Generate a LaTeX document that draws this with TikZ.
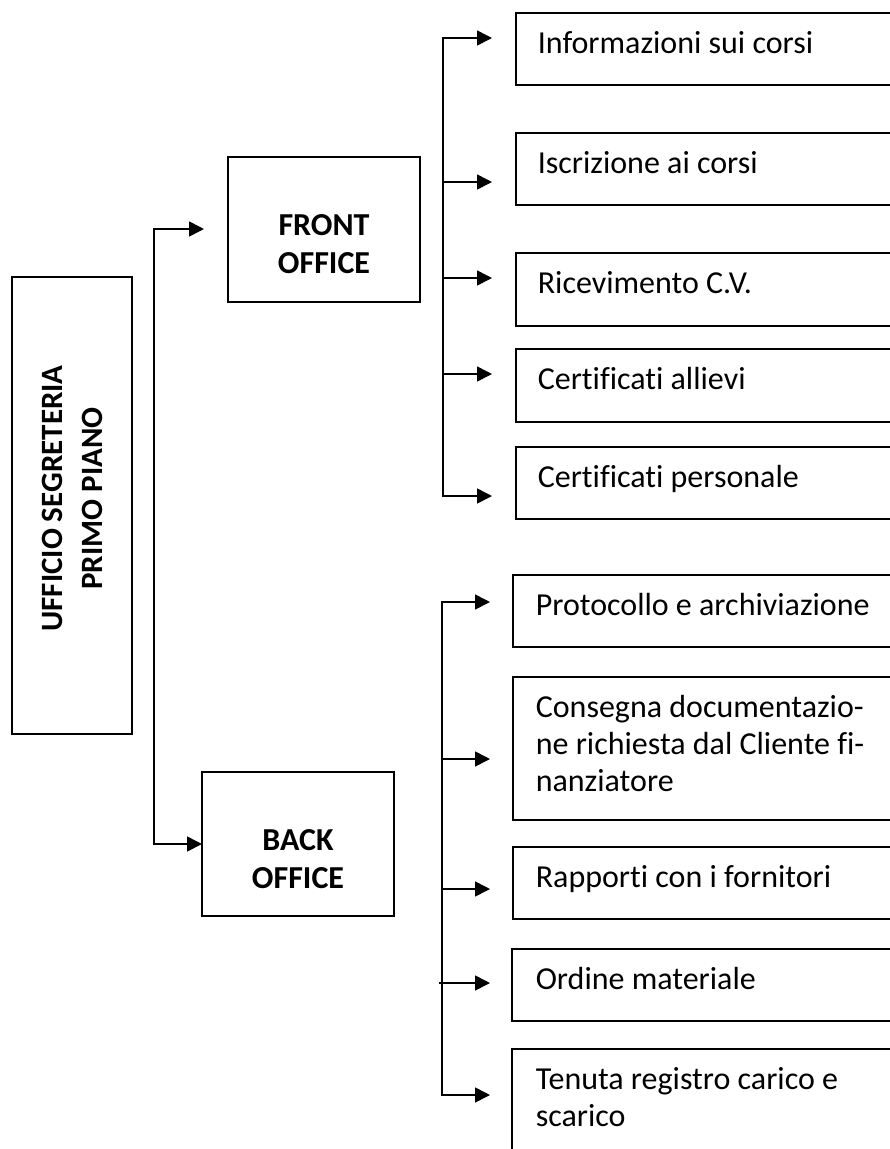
\documentclass[tikz,border=0pt]{standalone}
\usepackage{fontspec}
\setmainfont{Carlito}[Ligatures={NoCommon}]
\usetikzlibrary{arrows.meta}
\begin{document}
\begin{tikzpicture}[x=1pt,y=-1pt,line width=1.6pt,
  box/.style={draw,rectangle,inner sep=0pt,outer sep=0pt,anchor=north west},
  lbl/.style={anchor=base west,inner sep=0pt,font=\fontsize{32}{37}\selectfont,align=left},
  blbl/.style={anchor=base,inner sep=0pt,font=\bfseries\fontsize{32}{38}\selectfont,align=center},
  arr/.style={-{Triangle[length=15pt,width=15pt]}},
  arrb/.style={{Triangle[length=15pt,width=15pt]}-{Triangle[length=15pt,width=15pt]},line join=miter}]
\useasboundingbox (0,0) rectangle (890,1149);
\clip (0,0) rectangle (890,1149);

% main box
\node[box,minimum width=120,minimum height=457] (main) at (12,277) {};
\node[rotate=90,inner sep=0pt,font=\bfseries\fontsize{31}{40}\selectfont,align=center] (mainlbl) at ([yshift=7]main.center) {UFFICIO SEGRETERIA\\PRIMO PIANO};

% front / back office
\node[box,minimum width=192,minimum height=145] (fo) at (228,157) {};
\node[blbl] (folbl) at (324,273) {FRONT\\OFFICE};
\node[box,minimum width=192,minimum height=144] (bo) at (202,772) {};
\node[blbl] (bolbl) at (298,888) {BACK\\OFFICE};

% front office tasks
\node[box,minimum width=400,minimum height=72] (b1) at (516,13) {};
\node[lbl] (t1) at (537,53) {Informazioni sui corsi};
\node[box,minimum width=400,minimum height=72] (b2) at (516,133) {};
\node[lbl] (t2) at (537,173) {Iscrizione ai corsi};
\node[box,minimum width=400,minimum height=73] (b3) at (516,253) {};
\node[lbl] (t3) at (537,293) {Ricevimento C.V.};
\node[box,minimum width=400,minimum height=73] (b4) at (516,349) {};
\node[lbl] (t4) at (537,389) {Certificati allievi};
\node[box,minimum width=400,minimum height=72] (b5) at (516,447) {};
\node[lbl] (t5) at (537,487) {Certificati personale};

% back office tasks
\node[box,minimum width=400,minimum height=72] (b6) at (513,575) {};
\node[lbl] (t6) at (535,615) {Protocollo e archiviazione};
\node[box,minimum width=400,minimum height=143] (b7) at (513,677) {};
\node[lbl] (t7) at (535,791) {Consegna documentazio-\\ne richiesta dal Cliente fi-\\nanziatore};
\node[box,minimum width=400,minimum height=72] (b8) at (513,847) {};
\node[lbl] (t8) at (535,887) {Rapporti con i fornitori};
\node[box,minimum width=400,minimum height=72] (b9) at (512,949) {};
\node[lbl] (t9) at (535,989) {Ordine materiale};
\node[box,minimum width=400,minimum height=160] (b10) at (512,1049) {};
\node[lbl] (t10) at (535,1126) {Tenuta registro carico e\\scarico};

% level 1 connectors
\coordinate (c1) at (154,229);
\coordinate (c2) at (154,844);
\coordinate (tfo) at (204,229);
\draw[arrb] (tfo) -- (c1) -- (c2) -- (bo.west |- c2);

% front office bracket
\coordinate (f1) at (443,38);
\coordinate (f2) at (443,182);
\coordinate (f3) at (443,278);
\coordinate (f4) at (443,374);
\coordinate (f5) at (443,496);
\coordinate (a1) at (492,38);
\coordinate (a2) at (492,182);
\coordinate (a3) at (492,278);
\coordinate (a4) at (492,374);
\coordinate (a5) at (492,496);
\draw[arrb] (a1) -- (f1) -- (f5) -- (a5);
\draw[arr] (f2) -- (a2);
\draw[arr] (f3) -- (a3);
\draw[arr] (f4) -- (a4);

% back office bracket
\coordinate (g1) at (442,602);
\coordinate (g2) at (442,759);
\coordinate (g3) at (442,889);
\coordinate (g4) at (439,983);
\coordinate (g5) at (442,1095);
\coordinate (d1) at (490,602);
\coordinate (d2) at (490,759);
\coordinate (d3) at (490,889);
\coordinate (d4) at (490,983);
\coordinate (d5) at (490,1095);
\draw[arrb] (d1) -- (g1) -- (g5) -- (d5);
\draw[arr] (g2) -- (d2);
\draw[arr] (g3) -- (d3);
\draw[arr] (g4) -- (d4);
\end{tikzpicture}
\end{document}
